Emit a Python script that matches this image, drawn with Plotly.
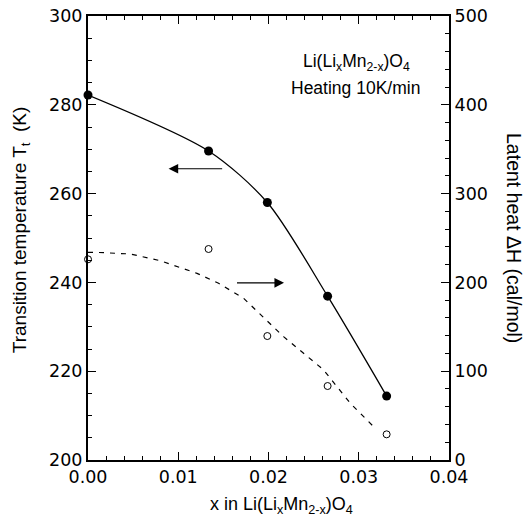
import plotly.graph_objects as go

# Data
x_pts = [0.0, 0.01336, 0.01987, 0.02655, 0.03309]
Tt_pts = [282.2, 269.6, 258.0, 236.9, 214.4]          # left axis (K)
dH_pts = [226.0, 237.6, 139.6, 83.3, 28.9]             # right axis (cal/mol)

# dashed guide curve for latent heat
dash_x = [0.0, 0.0008, 0.00469, 0.00801, 0.01208, 0.01447, 0.01724, 0.02167, 0.02611, 0.02906, 0.03165]
dash_y = [233.9, 233.9, 232.0, 224.4, 210.2, 199.0, 182.1, 138.9, 101.4, 63.9, 37.5]

x_ticks = [0.00, 0.01, 0.02, 0.03, 0.04]
y1_ticks = [200, 220, 240, 260, 280, 300]
y2_ticks = [0, 100, 200, 300, 400, 500]

FONT = "Liberation Sans, Arial, Helvetica, sans-serif"
TICKFONT = "DejaVu Sans, Liberation Sans, Arial, sans-serif"

fig = go.Figure()

fig.add_trace(go.Scatter(x=x_pts, y=Tt_pts, mode="lines",
                         line=dict(color="black", width=1.3, shape="spline", smoothing=0.8),
                         yaxis="y", showlegend=False, hoverinfo="skip"))
fig.add_trace(go.Scatter(x=x_pts, y=Tt_pts, mode="markers",
                         marker=dict(color="black", size=9, symbol="circle"),
                         yaxis="y", showlegend=False, cliponaxis=False))

fig.add_trace(go.Scatter(x=dash_x, y=dash_y, mode="lines",
                         line=dict(color="black", width=1.2, dash="5px,6px"),
                         yaxis="y2", showlegend=False, hoverinfo="skip"))
fig.add_trace(go.Scatter(x=x_pts, y=dH_pts, mode="markers",
                         marker=dict(color="white", size=7, symbol="circle",
                                     line=dict(color="black", width=1)),
                         yaxis="y2", showlegend=False, cliponaxis=False))

axis_common = dict(showgrid=False, zeroline=False, showline=True, linecolor="black",
                   linewidth=2, ticks="inside", ticklen=8, tickwidth=1.2, tickcolor="black",
                   automargin=False,
                   tickfont=dict(family=TICKFONT, size=17.5, color="black"))

fig.update_layout(
    template="none",
    width=526, height=531,
    margin=dict(l=88, r=77, t=16, b=71),
    paper_bgcolor="white", plot_bgcolor="white",
    font=dict(family=FONT, size=18, color="black"),
    xaxis=dict(range=[0, 0.04], tickmode="linear", tick0=x_ticks[0], dtick=x_ticks[1] - x_ticks[0],
               tickformat=".2f", mirror="ticks",
               minor=dict(dtick=0.002, ticks="inside", ticklen=4, tickcolor="black", tickwidth=1),
               **axis_common),
    yaxis=dict(range=[200, 300], tickmode="linear", tick0=y1_ticks[0], dtick=y1_ticks[1] - y1_ticks[0],
               mirror=False,
               minor=dict(dtick=5, ticks="inside", ticklen=4, tickcolor="black", tickwidth=1),
               **axis_common),
    yaxis2=dict(range=[0, 500], tickmode="linear", tick0=y2_ticks[0], dtick=y2_ticks[1] - y2_ticks[0],
                overlaying="y", side="right",
                minor=dict(dtick=20, ticks="inside", ticklen=4, tickcolor="black", tickwidth=1),
                **axis_common),
)

annotations = [
    dict(text="Li(Li<sub>x</sub>Mn<sub>2-x</sub>)O<sub>4</sub>",
         xref="paper", yref="paper", x=0.745, y=0.896, xanchor="center", yanchor="middle",
         showarrow=False, font=dict(family=FONT, size=17.5)),
    dict(text="Heating 10K/min",
         xref="paper", yref="paper", x=0.741, y=0.838, xanchor="center", yanchor="middle",
         showarrow=False, font=dict(family=FONT, size=17.5)),
    dict(text="x in Li(Li<sub>x</sub>Mn<sub>2-x</sub>)O<sub>4</sub>",
         xref="paper", yref="paper", x=0.535, y=-0.073, xanchor="center", yanchor="top",
         showarrow=False, font=dict(family=FONT, size=18)),
    dict(text="Transition temperature T<sub>t</sub> &nbsp;(K)",
         xref="paper", yref="paper", x=-0.185, y=0.518, xanchor="center", yanchor="middle",
         textangle=-90, showarrow=False, font=dict(family=FONT, size=19)),
    dict(text="Latent heat ΔH (cal/mol)",
         xref="paper", yref="paper", x=1.18, y=0.5, xanchor="center", yanchor="middle",
         textangle=90, showarrow=False, font=dict(family=FONT, size=19.5)),
    dict(x=0.00893, y=265.6, ax=0.01503, ay=265.6, xref="x", yref="y", axref="x", ayref="y",
         text="", showarrow=True, arrowhead=2, arrowsize=1.6, arrowwidth=1.2, arrowcolor="black"),
    dict(x=0.02172, y=239.9, ax=0.01634, ay=239.9, xref="x", yref="y", axref="x", ayref="y",
         text="", showarrow=True, arrowhead=2, arrowsize=1.6, arrowwidth=1.2, arrowcolor="black"),
]
fig.update_layout(annotations=annotations)

fig.write_html("out.html", config={"displayModeBar": False},
               post_script="document.body.style.margin='0';document.body.style.overflow='hidden';")
